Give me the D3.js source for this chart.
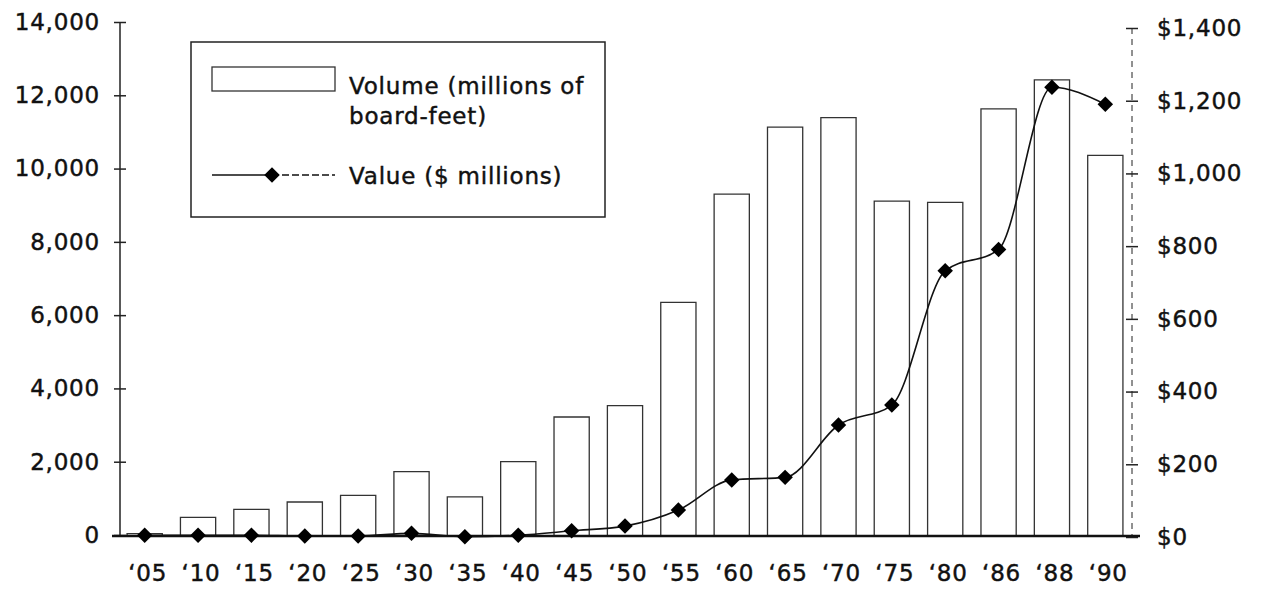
<!DOCTYPE html>
<meta charset="utf-8">
<style>
body { margin: 0; background: #fff; }
svg text { font-family: "DejaVu Sans", sans-serif; font-size: 23px; letter-spacing: 0.8px; fill: #111; stroke: #111; stroke-width: 0.45px; }
.bar { fill: none; stroke: #333; stroke-width: 1.3; }
.axis line { stroke: #222; stroke-width: 1.5; }
.value-line { fill: none; stroke: #111; stroke-width: 1.6; }
</style>
<body>
<script src="https://cdn.jsdelivr.net/npm/d3@7"></script>
<script>
var years = ["\u201805", "\u201810", "\u201815", "\u201820", "\u201825", "\u201830", "\u201835", "\u201840", "\u201845", "\u201850",
             "\u201855", "\u201860", "\u201865", "\u201870", "\u201875", "\u201880", "\u201886", "\u201888", "\u201890"];
var volume = [40, 480, 700, 900, 1080, 1730, 1040, 2000, 3220, 3530,
              6350, 9300, 11130, 11390, 9110, 9080, 11630, 12420, 10360];
var value = [5, 5, 5, 3, 3, 10, 1, 5, 17, 30,
             74, 157, 164, 308, 363, 732, 791, 1237, 1190];
var volumeTicks = [0, 2000, 4000, 6000, 8000, 10000, 12000, 14000];
var valueTicks = [0, 200, 400, 600, 800, 1000, 1200, 1400];

var width = 1262, height = 589;
var left = 120, right = 1132;

var svg = d3.select("body").append("svg")
    .attr("width", width)
    .attr("height", height);

var x = d3.scaleBand()
    .domain(years)
    .range([118, 1132])
    .paddingInner(0.34)
    .paddingOuter(0.17);

var yL = d3.scaleLinear().domain([0, 14000]).range([535, 22]);
var yR = d3.scaleLinear().domain([0, 1400]).range([537, 28]);

// bars (open outlines)
svg.selectAll(".bar")
    .data(volume)
    .enter().append("path")
    .attr("class", "bar")
    .attr("d", function(d, i) {
        var x0 = x(years[i]), x1 = x0 + x.bandwidth();
        return "M" + x0 + "," + yL(0) + "V" + yL(d) + "H" + x1 + "V" + yL(0);
    });

// left axis
var axL = svg.append("g")
    .attr("class", "axis")
    .attr("transform", "translate(" + left + ",0)")
    .call(d3.axisLeft(yL).tickValues(volumeTicks).tickSize(6).tickPadding(14)
        .tickFormat(d3.format(",")));
axL.select(".domain").remove();
axL.selectAll(".tick line").attr("x1", -6).attr("x2", 6);
axL.append("line").attr("y1", yL(14000)).attr("y2", yL(0));

// right axis
var axR = svg.append("g")
    .attr("class", "axis")
    .attr("transform", "translate(" + right + ",0)")
    .call(d3.axisRight(yR).tickValues(valueTicks).tickSize(6).tickPadding(19)
        .tickFormat(function(d) { return "$" + d3.format(",")(d); }));
axR.select(".domain").remove();
axR.selectAll(".tick line").attr("x1", -6).attr("x2", 6);
axR.append("line").attr("y1", yR(1400)).attr("y2", yR(0))
    .style("stroke-width", 1).style("stroke-dasharray", "6,5");
svg.selectAll(".axis text").style("font-size", "23px").style("font-family", "DejaVu Sans").attr("fill", "#111");

// x labels
svg.append("g").selectAll("text")
    .data(years)
    .enter().append("text")
    .attr("x", function(d) { return x(d) + x.bandwidth() / 2 + 3; })
    .attr("y", 581)
    .attr("text-anchor", "middle")
    .text(function(d) { return d; });

// baseline
svg.append("line")
    .attr("x1", 112).attr("x2", 1140)
    .attr("y1", 536).attr("y2", 536)
    .attr("stroke", "#111").attr("stroke-width", 2.5);

// value line
var line = d3.line()
    .x(function(d, i) { return x(years[i]) + x.bandwidth() / 2; })
    .y(function(d) { return yR(d); })
    .curve(d3.curveMonotoneX);

svg.append("path")
    .attr("class", "value-line")
    .attr("d", line(value));

var diamond = d3.symbol().type(d3.symbolSquare).size(120);
svg.selectAll(".pt")
    .data(value)
    .enter().append("path")
    .attr("class", "pt")
    .attr("d", diamond)
    .attr("fill", "#000")
    .attr("transform", function(d, i) {
        return "translate(" + (x(years[i]) + x.bandwidth() / 2) + "," + yR(d) + ") rotate(45)";
    });

// legend
var lg = svg.append("g");
lg.append("rect")
    .attr("x", 191).attr("y", 42).attr("width", 414).attr("height", 175)
    .attr("fill", "#fff").attr("stroke", "#222").attr("stroke-width", 1.5);
lg.append("rect")
    .attr("x", 212).attr("y", 67).attr("width", 123).attr("height", 24)
    .attr("fill", "none").attr("stroke", "#333").attr("stroke-width", 1.3);
lg.append("text").attr("x", 349).attr("y", 94).text("Volume (millions of");
lg.append("text").attr("x", 349).attr("y", 124).text("board-feet)");
lg.append("line").attr("x1", 212).attr("x2", 272).attr("y1", 175).attr("y2", 175)
    .attr("stroke", "#111").attr("stroke-width", 1.6);
lg.append("line").attr("x1", 272).attr("x2", 335).attr("y1", 175).attr("y2", 175)
    .attr("stroke", "#111").attr("stroke-width", 1.6).attr("stroke-dasharray", "7,3");
lg.append("path")
    .attr("d", diamond)
    .attr("transform", "translate(272,175) rotate(45)")
    .attr("fill", "#000");
lg.append("text").attr("x", 349).attr("y", 184).text("Value ($ millions)");
</script>
</body>
